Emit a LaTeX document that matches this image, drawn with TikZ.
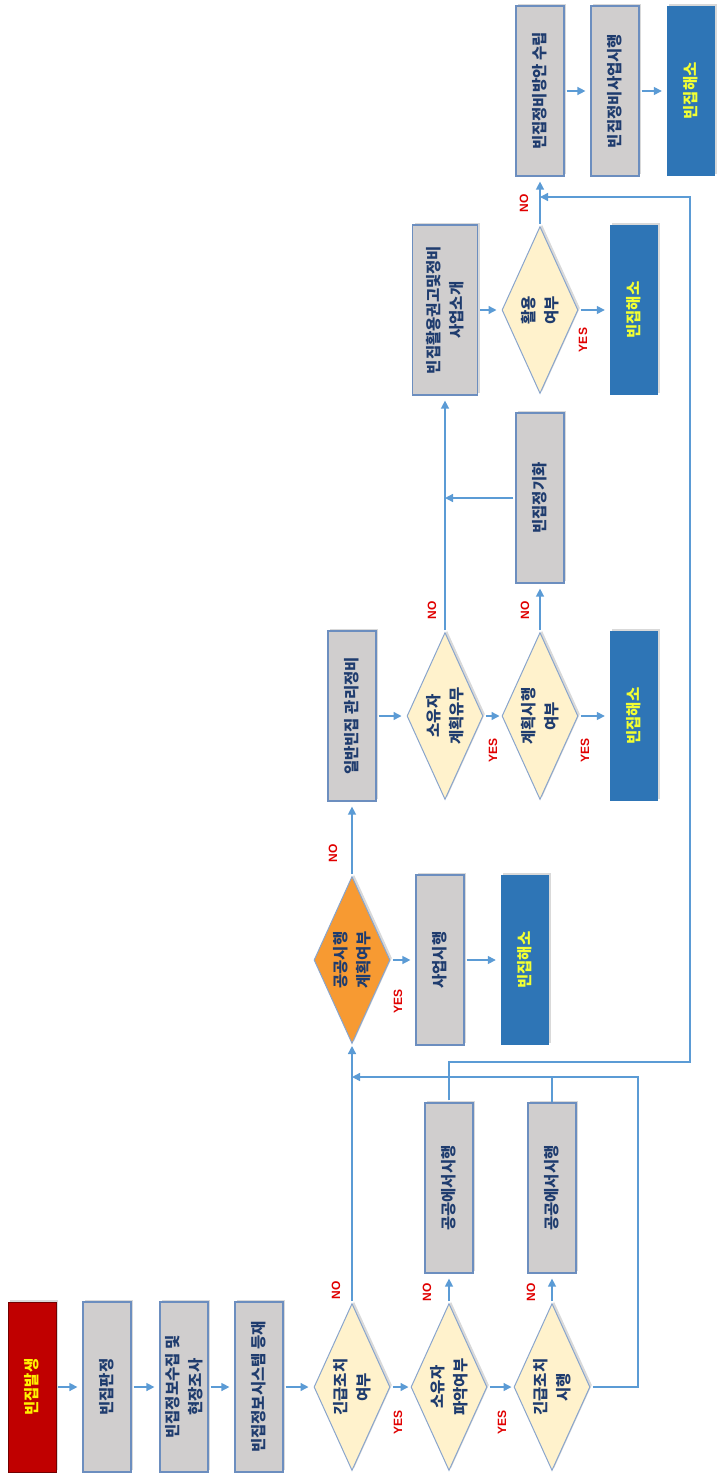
\documentclass[tikz,border=0pt]{standalone}
\usepackage{fontspec}
\setmainfont{Liberation Sans}
\newfontfamily\kr{Noto Sans CJK KR}
\usetikzlibrary{shapes.geometric,arrows.meta,shadows}
\definecolor{boxgray}{HTML}{D0CECE}
\definecolor{boxline}{HTML}{6C8EBF}
\definecolor{txtblue}{HTML}{1F3C6E}
\definecolor{cream}{HTML}{FFF2CC}
\definecolor{orng}{HTML}{F79A32}
\definecolor{darkred}{HTML}{C00000}
\definecolor{solblue}{HTML}{2E75B6}
\definecolor{lemon}{HTML}{F2FF33}
\definecolor{arrblue}{HTML}{5B9BD5}
\definecolor{lblred}{HTML}{E00000}

\begin{document}
\begin{tikzpicture}[x=1pt,y=-1pt,
  every node/.style={rotate=90,inner sep=0pt,align=center,font=\kr\bfseries\fontsize{15.5}{23}\selectfont},
  shade/.style={drop shadow={shadow xshift=2pt,shadow yshift=2pt,opacity=0.3}},
  gbox/.style={shade,draw=boxline,line width=1.2pt,fill=boxgray,text=txtblue,minimum width=170pt,minimum height=48pt},
  hbox/.style={shade,fill=solblue,text=lemon,minimum width=170pt,minimum height=48pt},
  rbox/.style={hbox,fill=darkred,draw=darkred!60!black,text=yellow},
  dia/.style={shade,diamond,shape aspect=2.2,draw=boxline!80,line width=1pt,fill=cream,text=txtblue,minimum width=167pt,minimum height=76pt},
  odia/.style={dia,fill=orng},
  lbl/.style={text=lblred,font=\bfseries\fontsize{12}{14}\selectfont},
  line/.style={draw=arrblue,line width=1.4pt},
  arr/.style={line,-{Triangle[length=8pt,width=8pt]},shorten <=2pt,shorten >=5pt}]
\useasboundingbox (0,0) rectangle (716,1482);

\node[rbox] (n1) at (32,1387) {빈집발생};
\node[gbox] (n2) at (107,1387) {빈집판정};
\node[gbox] (n3) at (184,1387) {빈집정보수집 및\\현장조사};
\node[gbox] (n4) at (259,1387) {빈집정보시스템 등재};
\node[dia] (d1) at (352,1387) {긴급조치\\여부};
\node[dia] (d2) at (449,1387) {소유자\\파악여부};
\node[dia] (d3) at (552,1387) {긴급조치\\시행};
\node[gbox] (p1) at (449,1188) {공공에서시행};
\node[gbox] (p2) at (552,1188) {공공에서시행};
\node[odia] (o1) at (352,960) {공공시행\\계획여부};
\node[gbox] (s1) at (440,960) {사업시행};
\node[hbox] (b1) at (525,960) {빈집해소};
\node[gbox] (g1) at (352,716) {일반빈집 관리정비};
\node[dia] (d4) at (445,716) {소유자\\계획유무};
\node[dia] (d5) at (540,716) {계획시행\\여부};
\node[hbox] (b2) at (634,716) {빈집해소};
\node[gbox] (c1) at (540,498) {빈집정기화};
\node[gbox,minimum height=65pt] (r1) at (445,310) {빈집활용권고및정비\\사업소개};
\node[dia] (d6) at (540,310) {활용\\여부};
\node[hbox] (b3) at (634,310) {빈집해소};
\node[gbox] (m1) at (540,91) {빈집정비방안 수립};
\node[gbox] (m2) at (615,91) {빈집정비사업시행};
\node[hbox] (b4) at (691,91) {빈집해소};

\coordinate (k1) at (638,1077);
\coordinate (k2) at (690,1062);
\coordinate (k3) at (690,197);

\draw[arr] (n1) -- (n2);
\draw[arr] (n2) -- (n3);
\draw[arr] (n3) -- (n4);
\draw[arr] (n4) -- (d1);
\draw[arr,shorten >=2pt] (d1) -- (d2);
\draw[arr,shorten >=2pt] (d2) -- (d3);
\draw[arr] (d2) -- (p1);
\draw[arr] (d3) -- (p2);
\draw[arr,shorten >=2pt] (d1) -- (o1);
\draw[arr] (o1) -- (s1);
\draw[arr] (s1) -- (b1);
\draw[arr] (o1) -- (g1);
\draw[arr] (g1) -- (d4);
\draw[arr,shorten >=2pt] (d4) -- (d5);
\draw[arr] (d5) -- (b2);
\draw[arr] (d4) -- (r1);
\draw[arr] (d5) -- (c1);
\draw[arr,shorten >=0pt] (c1) -- (c1 -| d4);
\draw[arr] (r1) -- (d6);
\draw[arr] (d6) -- (b3);
\draw[arr] (d6) -- (m1);
\draw[arr] (m1) -- (m2);
\draw[arr] (m2) -- (b4);
\draw[arr,shorten >=0pt] (d3) -| (k1) -- (k1 -| d1);
\draw[line] (p2) -- (p2 |- k1);
\draw[arr,shorten >=0pt] (p1) |- (k2) -- (k3) -- (k3 -| d6);

\node[lbl] at (398,1422) {YES};
\node[lbl] at (502,1422) {YES};
\node[lbl] at (398,1001) {YES};
\node[lbl] at (493,750) {YES};
\node[lbl] at (585,750) {YES};
\node[lbl] at (583,340) {YES};
\node[lbl] at (336,1290) {NO};
\node[lbl] at (427,1292) {NO};
\node[lbl] at (531,1292) {NO};
\node[lbl] at (333,853) {NO};
\node[lbl] at (432,610) {NO};
\node[lbl] at (525,610) {NO};
\node[lbl] at (524,203) {NO};
\end{tikzpicture}
\end{document}
